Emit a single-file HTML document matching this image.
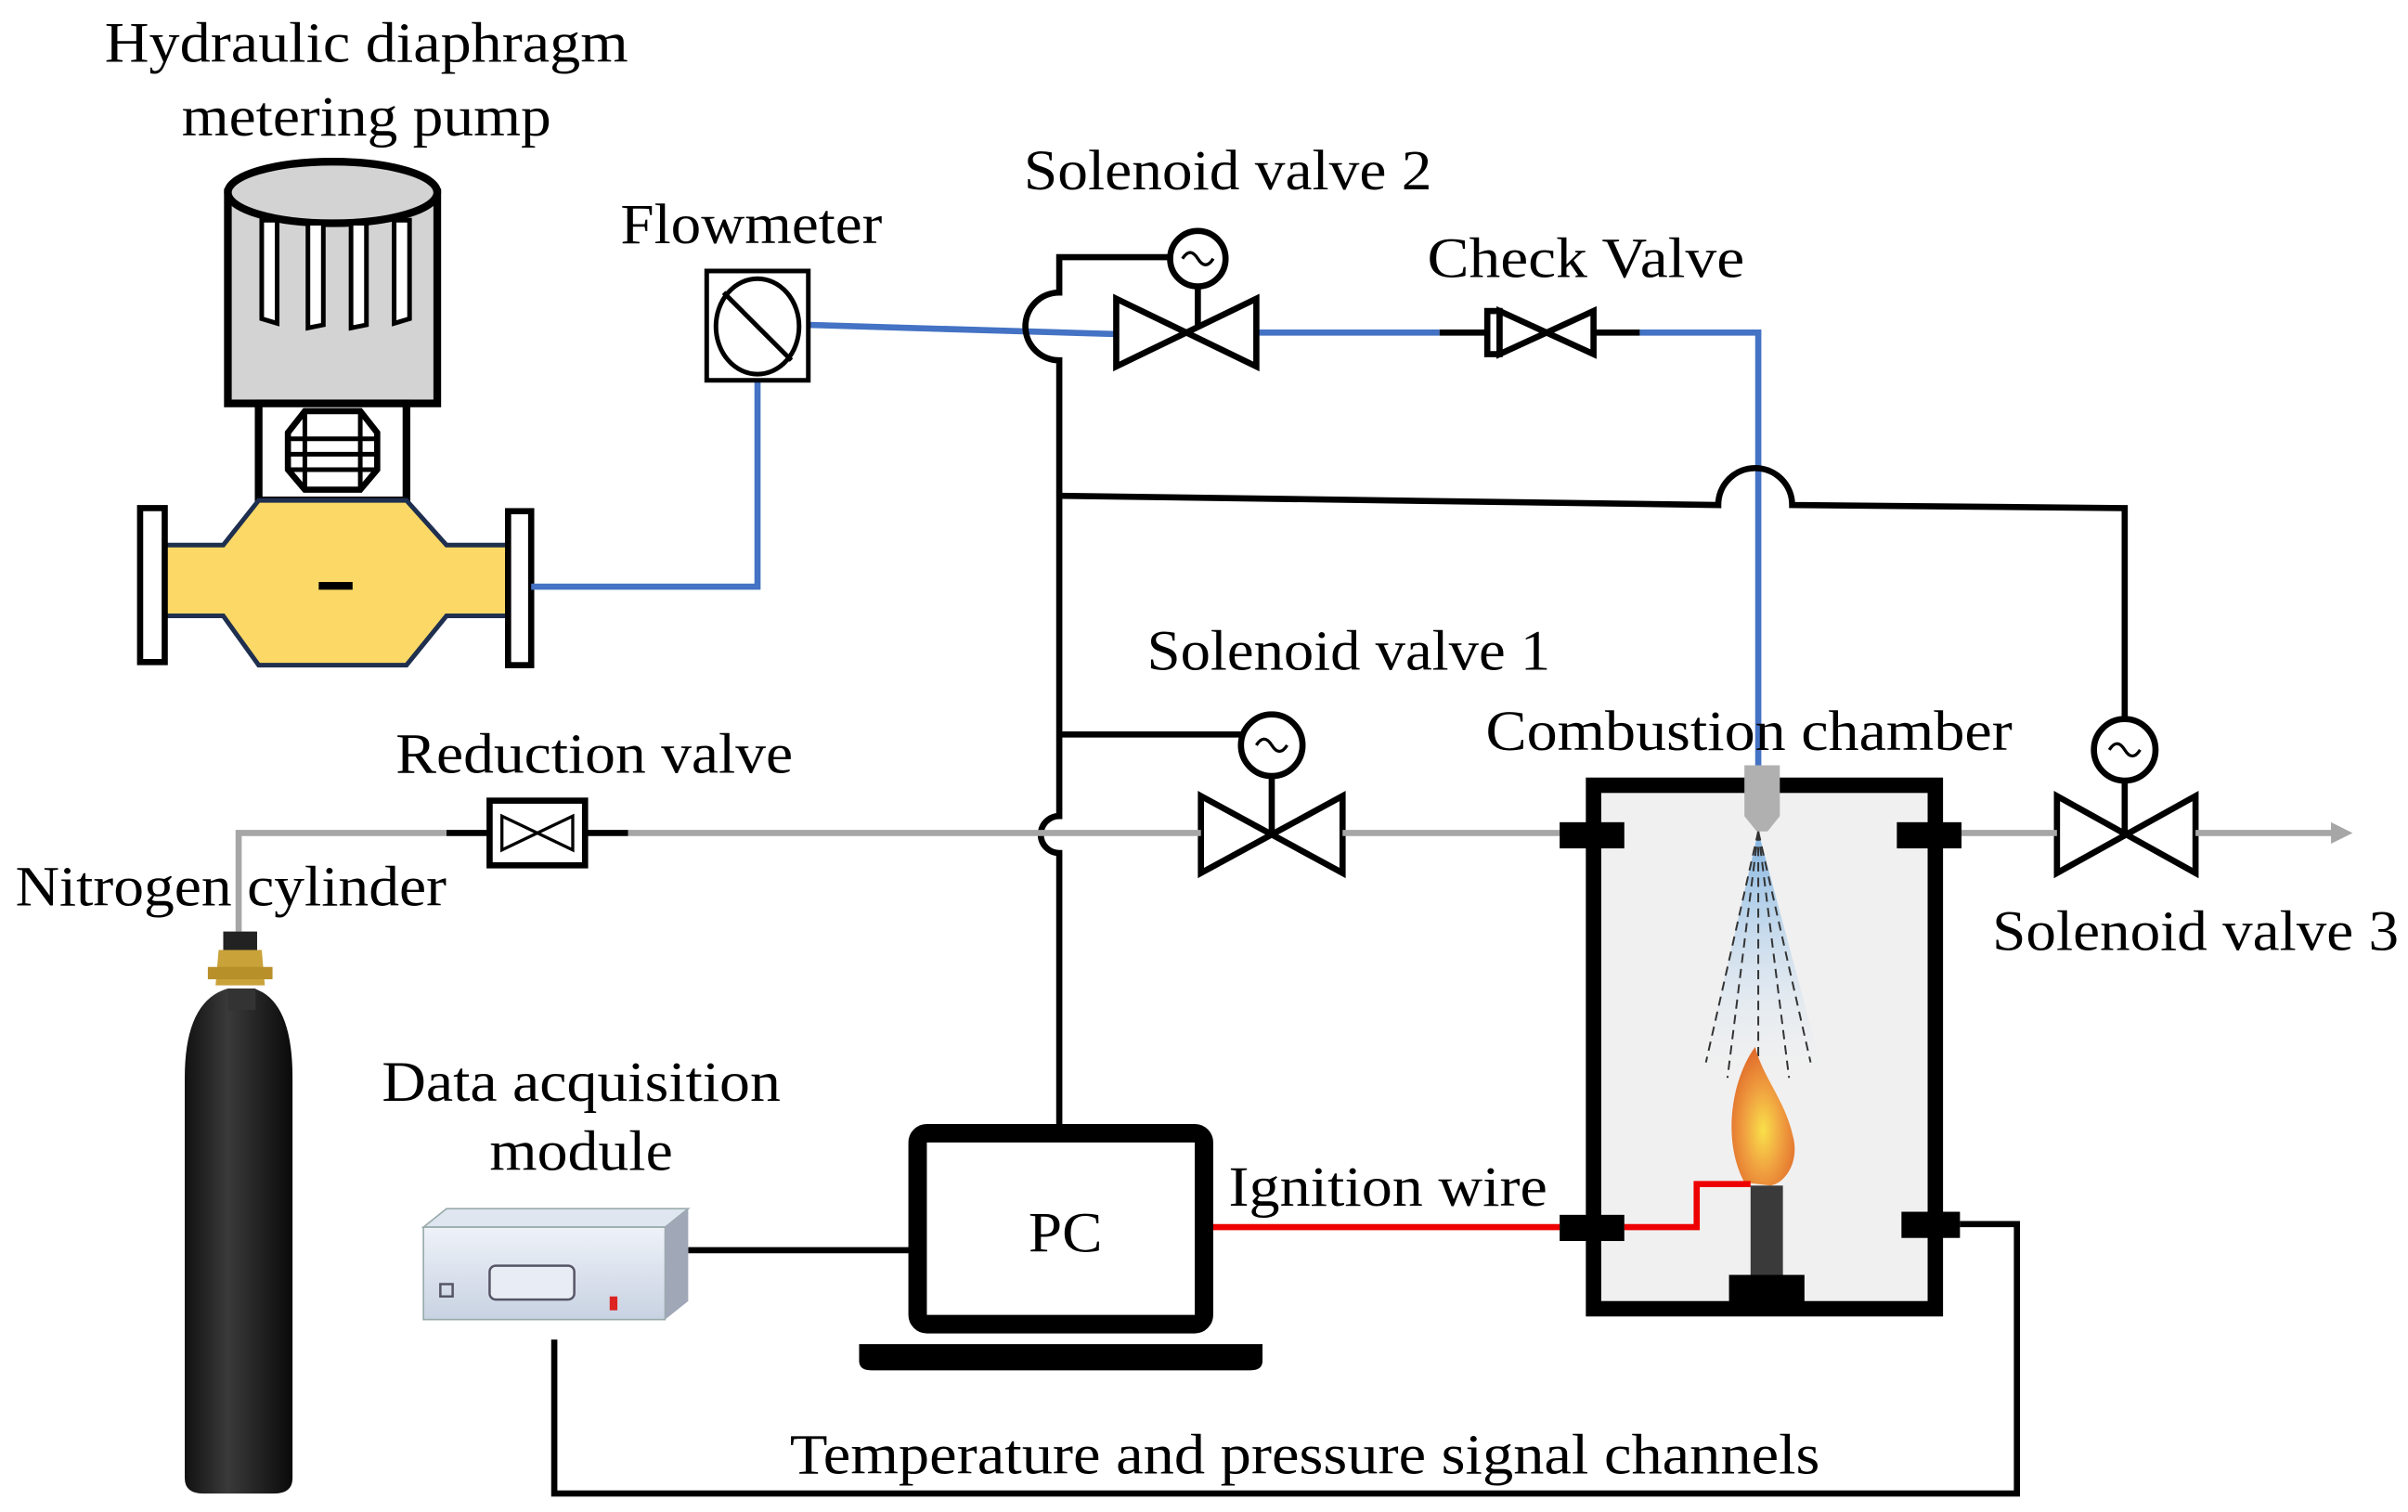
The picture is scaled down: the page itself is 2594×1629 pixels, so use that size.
<!DOCTYPE html>
<html><head><meta charset="utf-8"><style>html,body{margin:0;padding:0;background:#fff}svg{display:block}text{font-family:"Liberation Serif",serif;font-size:37px;fill:#000}</style></head>
<body>
<svg width="2594" height="1629" viewBox="0 0 1564 982" preserveAspectRatio="none" xmlns="http://www.w3.org/2000/svg">
<defs>
<linearGradient id="spray" x1="0" y1="0" x2="0" y2="1"><stop offset="0" stop-color="#7fb2e0"/><stop offset="1" stop-color="#e8f0f8" stop-opacity="0"/></linearGradient>
<radialGradient id="fl" cx="0.5" cy="0.6" r="0.6"><stop offset="0" stop-color="#f9e04a"/><stop offset="0.5" stop-color="#f0a040"/><stop offset="1" stop-color="#e06a2a"/></radialGradient>
<linearGradient id="cyl" x1="0" x2="1"><stop offset="0" stop-color="#111"/><stop offset="0.4" stop-color="#3a3a3a"/><stop offset="1" stop-color="#0a0a0a"/></linearGradient>
<linearGradient id="daq" x1="0" y1="0" x2="0" y2="1"><stop offset="0" stop-color="#eef2f8"/><stop offset="1" stop-color="#c8d2e2"/></linearGradient>
</defs>
<!-- texts -->
<text x="68" y="40" textLength="340" lengthAdjust="spacingAndGlyphs">Hydraulic diaphragm</text>
<text x="118" y="88" textLength="240" lengthAdjust="spacingAndGlyphs">metering pump</text>
<text x="403" y="158" textLength="170" lengthAdjust="spacingAndGlyphs">Flowmeter</text>
<text x="665" y="123" textLength="265" lengthAdjust="spacingAndGlyphs">Solenoid valve 2</text>
<text x="927" y="180" textLength="206" lengthAdjust="spacingAndGlyphs">Check Valve</text>
<text x="745" y="435" textLength="262" lengthAdjust="spacingAndGlyphs">Solenoid valve 1</text>
<text x="257" y="502" textLength="258" lengthAdjust="spacingAndGlyphs">Reduction valve</text>
<text x="10" y="588" textLength="280" lengthAdjust="spacingAndGlyphs">Nitrogen cylinder</text>
<text x="1294" y="617" textLength="264" lengthAdjust="spacingAndGlyphs">Solenoid valve 3</text>
<text x="248" y="715" textLength="259" lengthAdjust="spacingAndGlyphs">Data acquisition</text>
<text x="318" y="760" textLength="119" lengthAdjust="spacingAndGlyphs">module</text>
<text x="513" y="957" textLength="669" lengthAdjust="spacingAndGlyphs">Temperature and pressure signal channels</text>

<!-- pump -->
<rect x="148" y="125" width="136" height="137" fill="#d3d3d3" stroke="#000" stroke-width="5"/>
<ellipse cx="216" cy="125" rx="68" ry="20" fill="#d3d3d3" stroke="#000" stroke-width="5"/>
<g fill="#fff" stroke="#000" stroke-width="3">
<path d="M170 143 V207 L180 210 V143Z"/><path d="M200 145 V213 L210 211 V145Z"/><path d="M228 145 V213 L238 211 V145Z"/><path d="M256 143 V210 L266 207 V143Z"/></g>
<rect x="168" y="262" width="96" height="63" fill="#fff" stroke="#000" stroke-width="5"/>
<path d="M198 267 H234 L245 281 V305 L234 318 H198 L187 305 V281Z" fill="#fff" stroke="#000" stroke-width="4"/>
<path d="M198 267 V318 M234 267 V318 M187 285 H245 M187 295 H245 M187 305 H245" stroke="#000" stroke-width="3"/>
<path d="M107 354 H145 L168 325 H264 L290 354 H330 V400 H290 L264 432 H168 L145 400 H107Z" fill="#fcd966" stroke="#1f2f4f" stroke-width="3"/>
<rect x="91" y="330" width="16" height="100" fill="#fff" stroke="#000" stroke-width="4"/>
<rect x="330" y="332" width="15" height="100" fill="#fff" stroke="#000" stroke-width="4"/>
<rect x="207" y="378" width="22" height="5" fill="#000"/>

<!-- blue lines -->
<g fill="none" stroke="#4472c4" stroke-width="4">
<path d="M345 381 H492 V248"/>
<path d="M525 211 L725 217"/>
<path d="M816 216 H935"/>
<path d="M1065 216 H1142 V497"/>
</g>
<!-- flowmeter -->
<rect x="459" y="176" width="66" height="71" fill="#fff" stroke="#000" stroke-width="3"/>
<ellipse cx="492" cy="212" rx="27" ry="31" fill="none" stroke="#000" stroke-width="3"/>
<path d="M470 190 L514 234" stroke="#000" stroke-width="3"/>

<!-- black control lines -->
<g fill="none" stroke="#000" stroke-width="4">
<path d="M760 167 H688 V190 A22 22 0 0 0 688 234 V530 A12 12 0 0 0 688 554 V730"/>
<path d="M778 186 V216"/>
<path d="M688 322 L1116 328 A24 24 0 0 1 1164 328 L1380 330 V467"/>
<path d="M688 477 H826 V464"/>
<path d="M826 504 V541"/>
<path d="M1380 507 V541"/>
<path d="M935 216 H966 M1035 216 H1065"/>
<path d="M447 812 H596"/>
<path d="M1273 795 H1310 V970 H360 V870"/>
<path d="M290 541 H318 M380 541 H408"/>
</g>
<!-- valves -->
<g fill="#fff" stroke="#000" stroke-width="4">
<circle cx="778" cy="168" r="18"/>
<path d="M725 194 L816 238 V194 L725 238Z"/>
<circle cx="826" cy="484" r="20"/>
<path d="M780 517 L872 567 V517 L780 567Z"/>
<circle cx="1380" cy="487" r="20"/>
<path d="M1336 517 L1426 567 V517 L1336 567Z"/>
<rect x="966" y="202" width="8" height="28"/>
<path d="M974 202 L1035 230 V202 L974 230Z"/>
<rect x="318" y="520" width="62" height="42"/>
<path d="M326 530 L372 552 V530 L326 552Z" stroke-width="2"/>
</g>
<g fill="none" stroke="#000" stroke-width="2">
<path d="M768 168 q5 -8 10 0 t10 0"/><path d="M816 484 q5 -8 10 0 t10 0"/><path d="M1370 487 q5 -8 10 0 t10 0"/>
</g>
<!-- gray lines -->
<g fill="none" stroke="#a6a6a6" stroke-width="4">
<path d="M155 605 V541 H290"/>
<path d="M408 541 H780"/>
<path d="M872 541 H1085"/>
<path d="M1274 541 H1336"/>
<path d="M1426 541 H1515"/>
</g>
<path d="M1082 534 L1096 541 L1082 548Z" fill="#a6a6a6"/>
<path d="M1514 534 L1528 541 L1514 548Z" fill="#a6a6a6"/>

<!-- chamber -->
<rect x="1035" y="510" width="222" height="340" fill="#f0f0f0" stroke="#000" stroke-width="10"/>
<path d="M1142 540 L1105 700 H1185Z" fill="url(#spray)"/>
<g stroke="#333" stroke-width="1.2" stroke-dasharray="6 4" fill="none">
<path d="M1142 540 L1108 690"/><path d="M1142 540 L1122 700"/><path d="M1142 540 V720"/><path d="M1142 540 L1162 700"/><path d="M1142 540 L1176 690"/></g>
<path d="M1133 768 C1118 740 1125 700 1140 680 C1145 700 1160 715 1165 740 C1168 755 1160 768 1150 770Z" fill="url(#fl)"/>
<path d="M1133 497 H1156 V530 L1148 540 H1141 L1133 530Z" fill="#b0b0b0"/>
<rect x="1137" y="770" width="21" height="60" fill="#3a3a3a"/>
<rect x="1123" y="828" width="49" height="22" fill="#000"/>
<path d="M785 797 H1013 M1055 797 H1102 V769 H1137" fill="none" stroke="#e00" stroke-width="4"/>
<g fill="#000">
<rect x="1013" y="534" width="42" height="17"/><rect x="1232" y="534" width="42" height="17"/>
<rect x="1013" y="789" width="42" height="17"/><rect x="1235" y="787" width="38" height="17"/></g>
<text x="965" y="487" textLength="342" lengthAdjust="spacingAndGlyphs">Combustion chamber</text>
<text x="798" y="783" textLength="207" lengthAdjust="spacingAndGlyphs">Ignition wire</text>

<!-- PC -->
<rect x="596" y="736" width="186" height="124" rx="6" fill="#fff" stroke="#000" stroke-width="12"/>
<path d="M558 873 H820 V884 Q820 890 812 890 H566 Q558 890 558 884Z" fill="#000"/>
<text x="668" y="813" textLength="48" lengthAdjust="spacingAndGlyphs">PC</text>

<!-- DAQ -->
<path d="M275 797 L290 785 H447 L432 797Z" fill="#dfe6f0" stroke="#9aa" stroke-width="1"/>
<rect x="275" y="797" width="157" height="60" fill="url(#daq)" stroke="#9aa" stroke-width="1"/>
<path d="M432 797 L447 785 V845 L432 857Z" fill="#a0a8b8"/>
<rect x="318" y="822" width="55" height="22" rx="4" fill="#e8ecf4" stroke="#556" stroke-width="1.5"/>
<rect x="396" y="842" width="5" height="9" fill="#d22"/>
<rect x="286" y="834" width="8" height="8" fill="none" stroke="#556" stroke-width="1.5"/>

<!-- cylinder -->
<path d="M120 700 Q120 650 148 642 H165 Q190 650 190 700 V960 Q190 970 178 970 H132 Q120 970 120 960Z" fill="url(#cyl)"/>
<rect x="145" y="605" width="22" height="12" fill="#222"/>
<path d="M142 617 H170 L172 640 H140Z" fill="#c9a23a"/>
<rect x="135" y="628" width="42" height="8" fill="#b8902a"/>
<rect x="148" y="642" width="18" height="14" fill="#333"/>
</svg>
</body></html>
